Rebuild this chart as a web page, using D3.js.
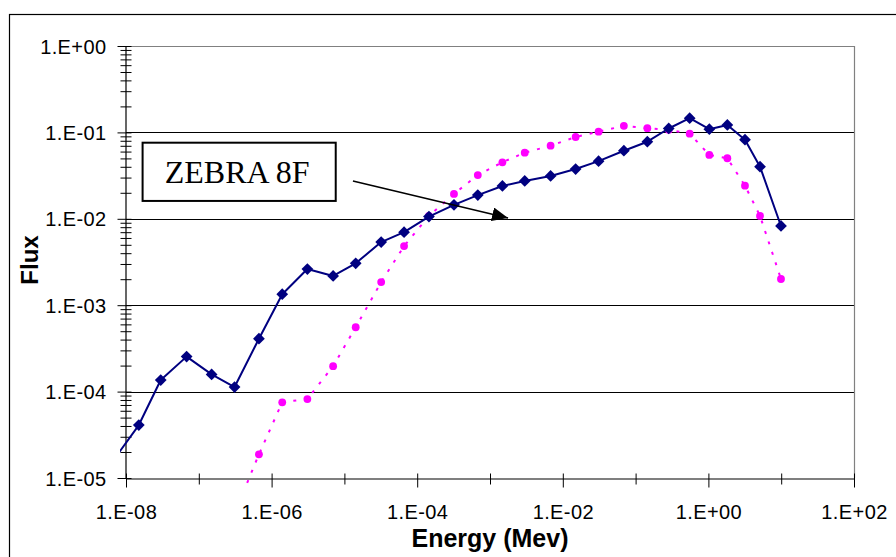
<!DOCTYPE html>
<html>
<head>
<meta charset="utf-8">
<script src="https://cdn.jsdelivr.net/npm/d3@7/dist/d3.min.js"></script>
<style>
  html, body { margin: 0; padding: 0; background: #fff; }
  svg { display: block; }
  .tick text { font-family: "Liberation Sans", Arial, sans-serif; }
</style>
</head>
<body>
<svg id="chart" width="896" height="557"></svg>
<script>
// Energy group points (MeV), shared by both spectra
const energy = [6.8e-9, 1.5e-8, 3.0e-8, 6.8e-8, 1.5e-7, 3.1e-7, 6.7e-7, 1.4e-6, 3.1e-6, 7.0e-6,
                1.43e-5, 3.2e-5, 6.6e-5, 1.45e-4, 3.2e-4, 6.8e-4, 1.48e-3, 3.0e-3, 6.8e-3, 1.5e-2,
                3.1e-2, 6.9e-2, 0.145, 0.285, 0.553, 1.03, 1.82, 3.18, 5.12, 9.93];

// ZEBRA 8F flux (navy diamonds)
const fluxZebra = [1.63e-5, 4.1e-5, 1.36e-4, 2.54e-4, 1.58e-4, 1.13e-4, 4.09e-4, 1.34e-3, 2.62e-3, 2.18e-3,
                   3.05e-3, 5.38e-3, 7.0e-3, 1.06e-2, 1.45e-2, 1.88e-2, 2.40e-2, 2.74e-2, 3.13e-2, 3.77e-2,
                   4.65e-2, 6.14e-2, 7.80e-2, 0.111, 0.146, 0.109, 0.122, 0.0824, 0.0401, 8.26e-3];

// Comparison flux (magenta dots, dotted line)
const fluxRef = [null, null, null, null, null, 3.9e-6, 1.88e-5, 7.52e-5, 8.2e-5, 1.97e-4,
                 5.56e-4, 1.85e-3, 4.84e-3, 1.08e-2, 1.94e-2, 3.21e-2, 4.51e-2, 5.82e-2, 7.02e-2, 8.85e-2,
                 0.102, 0.119, 0.112, 0.107, 0.0966, 0.0548, 0.0502, 0.0242, 0.0108, 2.01e-3];

const xDomain = [1e-8, 1e2];
const yDomain = [1e-5, 1];
const xLabelTicks = [1e-8, 1e-6, 1e-4, 1e-2, 1e0, 1e2];
const yLabelTicks = [1e-5, 1e-4, 1e-3, 1e-2, 1e-1, 1e0];

const annotationText = "ZEBRA 8F";
const xTitle = "Energy (Mev)";
const yTitle = "Flux";

const svg = d3.select("#chart");
const W = 896, H = 557;
const plot = { left: 126, right: 854, top: 46, bottom: 478 };

const x = d3.scaleLog().domain(xDomain).range([plot.left, plot.right]);
const y = d3.scaleLog().domain(yDomain).range([plot.bottom, plot.top]);

const fmt = v => {
  const e = Math.round(Math.log10(v));
  return "1.E" + (e < 0 ? "-" : "+") + String(Math.abs(e)).padStart(2, "0");
};
const isLabelled = (list, v) => list.some(t => Math.abs(Math.log10(t) - Math.log10(v)) < 1e-6);

// Background and outer chart frame
svg.append("rect").attr("width", W).attr("height", H).attr("fill", "#fff");
svg.append("rect").attr("x", 9.5).attr("y", 14.5).attr("width", 920).attr("height", 600)
  .attr("fill", "none").attr("stroke", "#000").attr("stroke-width", 1.2);

// Horizontal gridlines at each decade
svg.append("g").selectAll("line")
  .data(y.ticks().filter(v => isLabelled(yLabelTicks, v) && v < 1 && v > 1e-5))
  .join("line")
  .attr("x1", plot.left).attr("x2", plot.right)
  .attr("y1", d => Math.round(y(d)) + 0.5).attr("y2", d => Math.round(y(d)) + 0.5)
  .attr("stroke", "#000").attr("stroke-width", 1);

// Plot-area border (top and right)
svg.append("path")
  .attr("d", `M${plot.left},${plot.top + 0.5}H${plot.right + 0.5}V${plot.bottom}`)
  .attr("fill", "none").attr("stroke", "#808080").attr("stroke-width", 1.2);

// X axis with cross ticks
const xTicks = x.ticks();
const gx = svg.append("g").attr("transform", `translate(0,${plot.bottom + 0.5})`)
  .call(d3.axisBottom(x).tickValues(xTicks).tickSize(0).tickPadding(0)
    .tickFormat(v => isLabelled(xLabelTicks, v) ? fmt(v) : ""));
gx.select(".domain").attr("stroke", "#000").attr("stroke-width", 1.2);
gx.selectAll(".tick line")
  .attr("y1", -5)
  .attr("y2", d => isLabelled(xLabelTicks, d) ? 9 : 6)
  .attr("stroke", "#000").attr("stroke-width", 1);
gx.selectAll(".tick text")
  .attr("y", 40).attr("dy", null)
  .attr("font-size", 20).attr("letter-spacing", 0.4)
  .attr("fill", "#000");

// Y axis with cross ticks
const yTicks = y.ticks();
const gy = svg.append("g").attr("transform", `translate(${plot.left - 0.5},0)`)
  .call(d3.axisLeft(y).tickValues(yTicks).tickSize(0).tickPadding(0)
    .tickFormat(v => isLabelled(yLabelTicks, v) ? fmt(v) : ""));
gy.select(".domain").attr("stroke", "#000").attr("stroke-width", 1.2);
gy.selectAll(".tick line")
  .attr("x1", d => isLabelled(yLabelTicks, d) ? -8 : -5)
  .attr("x2", 6)
  .attr("stroke", "#000").attr("stroke-width", 1);
gy.selectAll(".tick text")
  .attr("x", -19).attr("dy", "0.35em")
  .attr("font-size", 20).attr("letter-spacing", 0.4)
  .attr("fill", "#000");

// Series are clipped slightly outside the plot area
svg.append("clipPath").attr("id", "plotClip")
  .append("rect")
  .attr("x", plot.left - 6).attr("y", plot.top - 6)
  .attr("width", plot.right - plot.left + 12).attr("height", plot.bottom - plot.top + 13);

const series = svg.append("g").attr("clip-path", "url(#plotClip)");

const lineOf = arr => d3.line()
  .defined((d, i) => arr[i] != null)
  .x((d, i) => x(energy[i]))
  .y((d, i) => y(arr[i]));

// Comparison spectrum: dotted magenta line with round markers
series.append("path")
  .datum(fluxRef)
  .attr("d", lineOf(fluxRef))
  .attr("fill", "none").attr("stroke", "#FF00FF")
  .attr("stroke-width", 2).attr("stroke-dasharray", "3,8");

series.append("g").selectAll("circle")
  .data(energy.map((e, i) => ({ e, f: fluxRef[i] })).filter(d => d.f != null))
  .join("circle")
  .attr("cx", d => x(d.e)).attr("cy", d => y(d.f)).attr("r", 3.9)
  .attr("fill", "#FF00FF");

// ZEBRA 8F spectrum: solid navy line with diamond markers
series.append("path")
  .datum(fluxZebra)
  .attr("d", lineOf(fluxZebra))
  .attr("fill", "none").attr("stroke", "#000080")
  .attr("stroke-width", 2).attr("stroke-linejoin", "round");

const diamond = d3.symbol().type(d3.symbolDiamond2).size(88);
series.append("g").selectAll("path")
  .data(energy.map((e, i) => ({ e, f: fluxZebra[i] })))
  .join("path")
  .attr("d", diamond)
  .attr("transform", d => `translate(${x(d.e)},${y(d.f)})`)
  .attr("fill", "#000080");

// Annotation: labelled box with an arrow pointing at the ZEBRA curve
const boxE = [1.69e-8, 7.6e-6];
const boxF = [0.076, 0.0161];
const bx0 = x(boxE[0]), bx1 = x(boxE[1]), by0 = y(boxF[0]), by1 = y(boxF[1]);
svg.append("rect")
  .attr("x", bx0).attr("y", by0).attr("width", bx1 - bx0).attr("height", by1 - by0)
  .attr("fill", "#fff").attr("stroke", "#000").attr("stroke-width", 2);
svg.append("text")
  .attr("x", (bx0 + bx1) / 2 - 2).attr("y", by0 + 40)
  .attr("text-anchor", "middle")
  .attr("font-family", "'Liberation Serif', 'Times New Roman', serif")
  .attr("font-size", 32).attr("fill", "#000")
  .text(annotationText);

svg.append("defs").append("marker")
  .attr("id", "arrowHead").attr("viewBox", "0 0 16 14")
  .attr("refX", 16).attr("refY", 7)
  .attr("markerWidth", 16).attr("markerHeight", 14)
  .attr("markerUnits", "userSpaceOnUse").attr("orient", "auto")
  .append("path").attr("d", "M0,0L16,7L0,14Z").attr("fill", "#000");

const arrowFrom = [1.31e-5, 0.0274];
const arrowTo = [1.77e-3, 0.0102];
svg.append("line")
  .attr("x1", x(arrowFrom[0])).attr("y1", y(arrowFrom[1]))
  .attr("x2", x(arrowTo[0])).attr("y2", y(arrowTo[1]))
  .attr("stroke", "#000").attr("stroke-width", 1.6)
  .attr("marker-end", "url(#arrowHead)");

// Axis titles
svg.append("text")
  .attr("x", (plot.left + plot.right) / 2).attr("y", 547)
  .attr("text-anchor", "middle")
  .attr("font-family", "'Liberation Sans', Arial, sans-serif")
  .attr("font-weight", "bold").attr("font-size", 25).attr("fill", "#000")
  .text(xTitle);

svg.append("text")
  .attr("transform", `translate(38,${(plot.top + plot.bottom) / 2 - 2}) rotate(-90)`)
  .attr("text-anchor", "middle")
  .attr("font-family", "'Liberation Sans', Arial, sans-serif")
  .attr("font-weight", "bold").attr("font-size", 24).attr("fill", "#000")
  .text(yTitle);
</script>
</body>
</html>
